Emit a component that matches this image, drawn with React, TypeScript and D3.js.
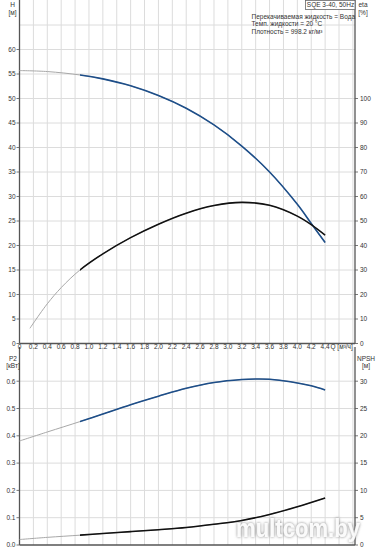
import React from "react";
import * as d3 from "d3";

// ---------- data ----------
const xTicks = [0, 0.2, 0.4, 0.6, 0.8, 1.0, 1.2, 1.4, 1.6, 1.8, 2.0, 2.2, 2.4, 2.6, 2.8, 3.0, 3.2, 3.4, 3.6, 3.8, 4.0, 4.2, 4.4];
const xGrid = [0.2, 0.4, 0.6, 0.8, 1.0, 1.2, 1.4, 1.6, 1.8, 2.0, 2.2, 2.4, 2.6, 2.8, 3.0, 3.2, 3.4, 3.6, 3.8, 4.0, 4.2, 4.4, 4.6, 4.8];
const hTicks = [0, 5, 10, 15, 20, 25, 30, 35, 40, 45, 50, 55, 60];
const hGrid = [5, 10, 15, 20, 25, 30, 35, 40, 45, 50, 55, 60, 65];
const etaTicks = [0, 10, 20, 30, 40, 50, 60, 70, 80, 90, 100];
const p2Ticks = [0, 0.1, 0.2, 0.3, 0.4, 0.5, 0.6];
const npshTicks = [0, 5, 10, 15, 20, 25, 30];

const qH = [0, 0.4, 0.87, 1.2, 1.6, 2.0, 2.4, 2.8, 3.2, 3.6, 4.0, 4.2, 4.4];
const hValues = [55.7, 55.5, 54.8, 54.0, 52.6, 50.6, 48.0, 44.6, 40.3, 35.0, 28.4, 24.5, 20.6];

const qEta = [0.15, 0.2, 0.4, 0.6, 0.87, 1.2, 1.6, 2.0, 2.4, 2.8, 3.2, 3.6, 4.0, 4.2, 4.4];
const etaValues = [6.2, 8.3, 16.2, 22.8, 30.0, 36.6, 43.2, 48.7, 53.2, 56.3, 57.6, 56.4, 52.0, 48.5, 44.2];

const qP2 = [0, 0.4, 0.87, 1.2, 1.6, 2.0, 2.4, 2.8, 3.2, 3.4, 3.6, 3.9, 4.2, 4.4];
const p2Values = [0.381, 0.414, 0.452, 0.48, 0.514, 0.545, 0.574, 0.595, 0.606, 0.608, 0.607, 0.598, 0.583, 0.568];

const qNpsh = [0, 0.4, 0.87, 1.2, 1.6, 2.0, 2.4, 2.8, 3.2, 3.6, 4.0, 4.4];
const npshValues = [1.0, 1.4, 1.8, 2.1, 2.45, 2.8, 3.2, 3.8, 4.5, 5.6, 7.0, 8.6];

const Q_MIN_OP = 0.87;

const infoLines = ["Перекачиваемая жидкость = Вода", "Темп. жидкости = 20 °C", "Плотность = 998.2 кг/м³"];

// ---------- layout ----------
const W = 379;
const H = 550;
const L = 19.5;
const R = 355;
const topY0 = 343.5;
const botY0 = 545;
const botTop = 347;

const FONT = "'Liberation Sans', Arial, sans-serif";
const TXT = "#333";
const GRID = "#dcdcdc";
const AXIS = "#555";
const BLUE = "#1d4e89";
const BLACK = "#111";
const THIN = "#a8a8a8";

export default function App() {
  const x = d3.scaleLinear().domain([0, 4.83]).range([L, R]);
  const yH = d3.scaleLinear().domain([0, 70]).range([topY0, topY0 - 70 * 4.9]);
  const yEta = d3.scaleLinear().domain([0, 140]).range([topY0, topY0 - 70 * 4.9]);
  const yP = d3.scaleLinear().domain([0, 0.7]).range([botY0, botY0 - 0.7 * 273]);
  const yN = d3.scaleLinear().domain([0, 35]).range([botY0, botY0 - 0.7 * 273]);

  const mk = (qs: number[], vs: number[], ys: (v: number) => number) =>
    d3
      .line<number>()
      .x((_, i) => x(qs[i]))
      .y((v) => ys(v))
      .curve(d3.curveCatmullRom.alpha(0.5))(vs) || "";

  const hPath = mk(qH, hValues, yH);
  const etaPath = mk(qEta, etaValues, yEta);
  const p2Path = mk(qP2, p2Values, yP);
  const npshPath = mk(qNpsh, npshValues, yN);

  const fmt1 = (v: number) => (v === 0 ? "0" : v.toFixed(1));

  const curve = (d: string, color: string) => (
    <g>
      <path d={d} fill="none" stroke={THIN} strokeWidth={1} />
      <path d={d} fill="none" stroke={color} strokeWidth={1.6} clipPath="url(#opClip)" />
    </g>
  );

  return (
    <svg
      width={W}
      height={H}
      style={{ position: "fixed", left: 0, top: 0, background: "#fff" }}
      fontFamily={FONT}
    >
      <defs>
        <clipPath id="opClip">
          <rect x={x(Q_MIN_OP)} y={0} width={W} height={H} />
        </clipPath>
        <filter id="wm" x="-10%" y="-30%" width="120%" height="160%">
          <feGaussianBlur in="SourceAlpha" stdDeviation="1.5" result="b" />
          <feFlood floodColor="#777" result="c" />
          <feComposite in="c" in2="b" operator="in" result="s" />
          <feMerge>
            <feMergeNode in="s" />
            <feMergeNode in="SourceGraphic" />
          </feMerge>
        </filter>
      </defs>
      <rect x={0} y={0} width={W} height={H} fill="#fff" />

      {/* ---------- top chart grid ---------- */}
      {xGrid.map((q) => (
        <line key={"tv" + q} x1={x(q)} x2={x(q)} y1={0} y2={topY0} stroke={GRID} strokeWidth={1} />
      ))}
      {hGrid.map((h) => (
        <line key={"th" + h} x1={L} x2={R} y1={yH(h)} y2={yH(h)} stroke={GRID} strokeWidth={1} />
      ))}

      {/* ---------- bottom chart grid ---------- */}
      {xGrid.map((q) => (
        <line key={"bv" + q} x1={x(q)} x2={x(q)} y1={botTop} y2={botY0} stroke={GRID} strokeWidth={1} />
      ))}
      {p2Ticks.slice(1).map((p) => (
        <line key={"bh" + p} x1={L} x2={R} y1={yP(p)} y2={yP(p)} stroke={GRID} strokeWidth={1} />
      ))}

      {/* ---------- axes ---------- */}
      <line x1={L} x2={L} y1={0} y2={topY0} stroke={AXIS} strokeWidth={1.3} />
      <line x1={R} x2={R} y1={0} y2={topY0} stroke={AXIS} strokeWidth={1.3} />
      <line x1={L} x2={R} y1={topY0} y2={topY0} stroke={AXIS} strokeWidth={1.3} />
      <line x1={L} x2={L} y1={botTop} y2={botY0} stroke={AXIS} strokeWidth={1.3} />
      <line x1={R} x2={R} y1={botTop} y2={botY0} stroke={AXIS} strokeWidth={1.3} />
      <line x1={L} x2={R} y1={botY0} y2={botY0} stroke={AXIS} strokeWidth={1.3} />

      {/* H ticks */}
      {hTicks.map((h) => (
        <g key={"ht" + h}>
          <line x1={L - 3} x2={L} y1={yH(h)} y2={yH(h)} stroke={AXIS} strokeWidth={0.8} />
          <text x={L - 4} y={yH(h) + 2.3} fontSize={6.5} fill={TXT} textAnchor="end">{h}</text>
        </g>
      ))}
      {/* eta ticks */}
      {etaTicks.map((e) => (
        <g key={"et" + e}>
          <line x1={R} x2={R + 3} y1={yEta(e)} y2={yEta(e)} stroke={AXIS} strokeWidth={0.8} />
          <text x={R + 5} y={yEta(e) + 2.3} fontSize={6.5} fill={TXT}>{e}</text>
        </g>
      ))}
      {/* P2 ticks */}
      {p2Ticks.map((p) => (
        <g key={"pt" + p}>
          <line x1={L - 3} x2={L} y1={yP(p)} y2={yP(p)} stroke={AXIS} strokeWidth={0.8} />
          <text x={L - 4} y={yP(p) + 2.3} fontSize={6.5} fill={TXT} textAnchor="end">{p.toFixed(1)}</text>
        </g>
      ))}
      {/* NPSH ticks */}
      {npshTicks.map((n) => (
        <g key={"nt" + n}>
          <line x1={R} x2={R + 3} y1={yN(n)} y2={yN(n)} stroke={AXIS} strokeWidth={0.8} />
          <text x={R + 5} y={yN(n) + 2.3} fontSize={6.5} fill={TXT}>{n}</text>
        </g>
      ))}
      {/* x tick labels */}
      {xTicks.map((q) => (
        <text key={"xt" + q} x={x(q)} y={348.5} fontSize={6.5} fill={TXT} textAnchor="middle">{fmt1(q)}</text>
      ))}
      <text x={330.5} y={348.5} fontSize={6.5} fill={TXT}>Q [м³/ч]</text>

      {/* axis titles */}
      <text x={12.5} y={6.5} fontSize={6.5} fill={TXT} textAnchor="middle">H</text>
      <text x={12.5} y={15} fontSize={6.5} fill={TXT} textAnchor="middle">[м]</text>
      <text x={363} y={6.5} fontSize={6.5} fill={TXT} textAnchor="middle">eta</text>
      <text x={363} y={15} fontSize={6.5} fill={TXT} textAnchor="middle">[%]</text>
      <text x={13} y={360.5} fontSize={6.5} fill={TXT} textAnchor="middle">P2</text>
      <text x={13} y={367.5} fontSize={6.5} fill={TXT} textAnchor="middle">[кВт]</text>
      <text x={366} y={360.5} fontSize={6.5} fill={TXT} textAnchor="middle">NPSH</text>
      <text x={366} y={367.5} fontSize={6.5} fill={TXT} textAnchor="middle">[м]</text>

      {/* title box */}
      <rect x={305.5} y={0.5} width={R - 305.5} height={9} fill="#fff" stroke="#666" strokeWidth={0.8} />
      <text x={330.5} y={7.3} fontSize={6.5} fill={TXT} textAnchor="middle">SQE 3-40, 50Hz</text>

      {/* info text */}
      {infoLines.map((t, i) => (
        <text key={"info" + i} x={251.5} y={18.5 + i * 7.6} fontSize={6.5} fill={TXT}>{t}</text>
      ))}

      {/* curves */}
      {curve(hPath, BLUE)}
      {curve(etaPath, BLACK)}
      {curve(p2Path, BLUE)}
      {curve(npshPath, BLACK)}

      {/* watermark */}
      <text
        x={236}
        y={537}
        fontSize={26}
        fontWeight="bold"
        fill="#fff"
        fillOpacity={0.92}
        textLength={124}
        lengthAdjust="spacingAndGlyphs"
        filter="url(#wm)"
      >
        multcom.by
      </text>
    </svg>
  );
}
